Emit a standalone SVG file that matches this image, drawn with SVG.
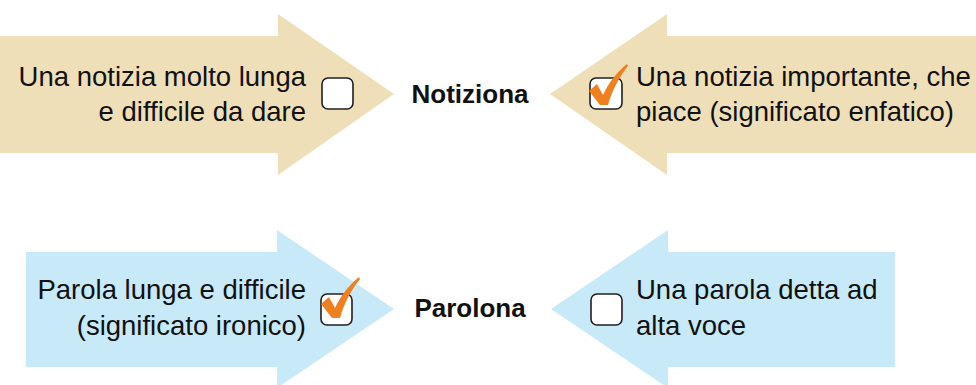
<svg xmlns="http://www.w3.org/2000/svg" xmlns:xlink="http://www.w3.org/1999/xlink" width="976" height="385" viewBox="0 0 976 385">
<defs>
<style>
.beige{fill:#EFDFB9}
.blue{fill:#C8E9F8}
.box{fill:#ffffff;stroke:#231F20;stroke-width:1.6}
.txt{font-family:"Liberation Sans",Arial,sans-serif;font-size:27.5px;fill:#111111}
.lbl{font-family:"Liberation Sans",Arial,sans-serif;font-size:26px;font-weight:bold;fill:#111111;text-anchor:middle}
.chk{fill:#F0801F}
</style>
<path id="check" d="M -14,-12 L -6,-19 L 0,-8 C 6,-21 14,-31 24,-39 L 25,-37 C 17,-27 9,-13 5,2 L -3,2 Z"/>
</defs>
<rect width="976" height="385" fill="#ffffff"/>
<g id="connectors"></g>
<g id="node-notizia-lunga">
<polygon class="beige" points="0,36 278,36 278,14 394,94 278,175 278,153 0,153"/>
<text class="txt" text-anchor="end"><tspan x="306" y="86">Una notizia molto lunga</tspan><tspan x="306" y="121">e difficile da dare</tspan></text>
<rect class="box" x="322" y="78" width="31" height="31" rx="6"/>
</g>
<g id="node-notiziona">
<text class="lbl" x="470" y="103">Notiziona</text>
</g>
<g id="node-notizia-importante">
<polygon class="beige" points="976,36 667,36 667,14 550,94 667,175 667,153 976,153"/>
<rect class="box" x="590" y="78" width="32" height="31" rx="6"/>
<use xlink:href="#check" href="#check" class="chk" x="603" y="103"/>
<text class="txt"><tspan x="636" y="86">Una notizia importante, che</tspan><tspan x="636" y="121">piace (significato enfatico)</tspan></text>
</g>
<g id="node-parola-lunga">
<polygon class="blue" points="26,252 277,252 277,230 394,309 277,388 277,367 26,367"/>
<text class="txt" text-anchor="end"><tspan x="306" y="299">Parola lunga e difficile</tspan><tspan x="306" y="335">(significato ironico)</tspan></text>
<rect class="box" x="321" y="294" width="31" height="31" rx="6"/>
<use xlink:href="#check" href="#check" class="chk" x="335" y="316"/>
</g>
<g id="node-parolona">
<text class="lbl" x="470" y="317">Parolona</text>
</g>
<g id="node-parola-alta-voce">
<polygon class="blue" points="895,252 668,252 668,230 551,309 668,388 668,367 895,367"/>
<rect class="box" x="591" y="294" width="31" height="31" rx="6"/>
<text class="txt"><tspan x="636" y="299">Una parola detta ad</tspan><tspan x="636" y="335">alta voce</tspan></text>
</g>
</svg>
